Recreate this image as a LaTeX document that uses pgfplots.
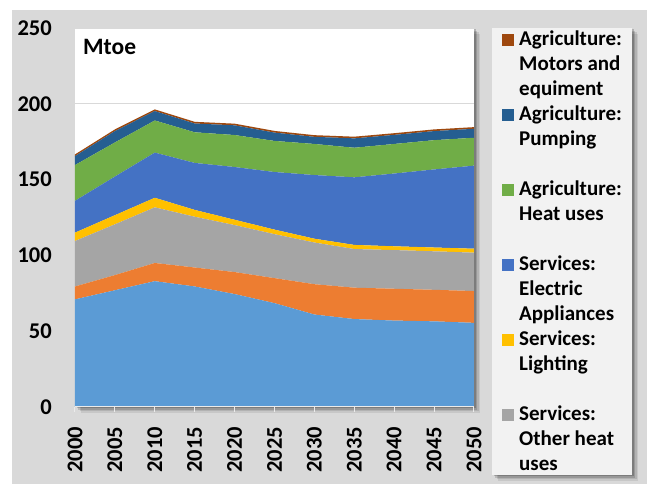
\documentclass[border=0pt]{standalone}
\usepackage{fontspec}
\setmainfont{Carlito}
\usepackage{pgfplots}
\pgfplotsset{compat=1.18}
\usepackage{pgfplotstable}

\definecolor{sLB}{HTML}{5B9BD5}
\definecolor{sOR}{HTML}{ED7D31}
\definecolor{sGR}{HTML}{A5A5A5}
\definecolor{sYE}{HTML}{FFC000}
\definecolor{sBL}{HTML}{4472C4}
\definecolor{sGN}{HTML}{70AD47}
\definecolor{sDB}{HTML}{255E91}
\definecolor{sBR}{HTML}{9E480E}
\definecolor{panel}{HTML}{D9D9D9}
\definecolor{legbg}{HTML}{F2F2F2}

\newcommand\f{\fontsize{21}{25}\selectfont\bfseries}
\newcommand\ft{\fontsize{22.5}{27}\selectfont\bfseries}
\newcommand\legtxt[1]{\begin{tabular}[t]{@{}l@{}}#1\end{tabular}}

% Mtoe, stacked from the bottom
\pgfplotstableread{
year lb   or   gr   ye  bl   gn   db  br
2000 71   8.5  30   5.5 21   23.6 5.9 1.1
2005 77   10   33.5 6   25.5 22.5 7.5 1.1
2010 83   12   36.7 6.3 29.8 21.2 6.2 1.1
2015 79.5 12.5 33.5 4.5 31   20.2 5.8 1.1
2020 74.5 14.5 31   3.5 34.8 21.1 6.4 1.1
2025 68.5 16.5 29   3   38   20.5 5.5 1.1
2030 61   20   27.5 2.5 42   20.5 4.7 1.1
2035 58   20.7 25.5 2.7 44.6 19.5 6.2 1.1
2040 57   21   25.5 2.5 48   19.5 6   1.1
2045 56.5 20.8 25.4 2.5 51.5 19.3 6   1.1
2050 55.5 21   25.3 2.6 54.8 18.4 5.9 1.1
}\mtoe

\begin{document}
\begin{tikzpicture}
\useasboundingbox (0pt,0pt) rectangle (649pt,484pt);
\fill[white] (0pt,0pt) rectangle (649pt,484pt);
\fill[panel] (12pt,0pt) rectangle (647pt,474pt);
% soft shadows (the centres get covered below)
\foreach \o/\a in {6/0.08,4.5/0.1,3/0.14,1.5/0.18}{
  \fill[black,opacity=\a] (75pt+\o pt,77pt-\o pt) rectangle (474pt+\o pt,456pt-\o pt);
  \fill[black,opacity=\a] (492pt+\o pt,9pt-\o pt) rectangle (632pt+\o pt,456pt-\o pt);
}
\fill[white] (75pt,77pt) rectangle (474pt,456pt);
\fill[legbg] (492pt,9pt) rectangle (632pt,456pt);
% gridlines at 200 and 250 (the lower ones lie under the areas)
\draw[panel, line width=1pt] (75pt,380.2pt) -- (474pt,380.2pt);
\draw[panel, line width=1pt] (75pt,455.5pt) -- (474pt,455.5pt);

\begin{axis}[
  at={(75pt,77pt)}, anchor=south west,
  width=399pt, height=379pt, scale only axis,
  xmin=2000, xmax=2050, ymin=0, ymax=250,
  axis x line*=bottom, axis y line*=left,
  x axis line style={draw=white!92!black, line width=1pt},
  y axis line style={draw=none},
  xtick={2000,2005,...,2050}, ytick={0,50,...,250},
  tick align=outside, major tick length=5pt,
  x tick style={draw=white!92!black, line width=1pt},
  y tick style={draw=none},
  /pgf/number format/.cd, 1000 sep={}, assume math mode=true, /pgfplots/.cd,
  xticklabel style={font=\ft, rotate=90, anchor=east, inner sep=0pt},
  yticklabel style={font=\ft, anchor=east, inner sep=0pt},
  xticklabel shift=15pt, yticklabel shift=18pt,
  stack plots=y, area style,
]
\addplot[fill=sLB, draw=none] table[x=year,y=lb] {\mtoe} \closedcycle;
\addplot[fill=sOR, draw=none] table[x=year,y=or] {\mtoe} \closedcycle;
\addplot[fill=sGR, draw=none] table[x=year,y=gr] {\mtoe} \closedcycle;
\addplot[fill=sYE, draw=none] table[x=year,y=ye] {\mtoe} \closedcycle;
\addplot[fill=sBL, draw=none] table[x=year,y=bl] {\mtoe} \closedcycle;
\addplot[fill=sGN, draw=none] table[x=year,y=gn] {\mtoe} \closedcycle;
\addplot[fill=sDB, draw=none] table[x=year,y=db] {\mtoe} \closedcycle;
\addplot[fill=sBR, draw=none] table[x=year,y=br] {\mtoe} \closedcycle;
\end{axis}
\node[font=\fontsize{23.5}{28}\selectfont\bfseries, anchor=base west, inner sep=0pt] at (83pt,429pt) {Mtoe};

% legend (the entries that show in the box, three lines each)
\foreach \c/\t [count=\i from 0] in {
  sBR/{Agriculture:\\Motors and\\equiment},
  sDB/{Agriculture:\\Pumping},
  sGN/{Agriculture:\\Heat uses},
  sBL/{Services:\\Electric\\Appliances},
  sYE/{Services:\\Lighting},
  sGR/{Services:\\Other heat\\uses}}{
  \fill[\c] (502pt,438pt-75pt*\i) rectangle (514pt,450pt-75pt*\i);
  \node[font=\f, anchor=base west, inner sep=0pt] at (519pt,438pt-75pt*\i) {\legtxt{\t}};
}
\end{tikzpicture}
\end{document}
